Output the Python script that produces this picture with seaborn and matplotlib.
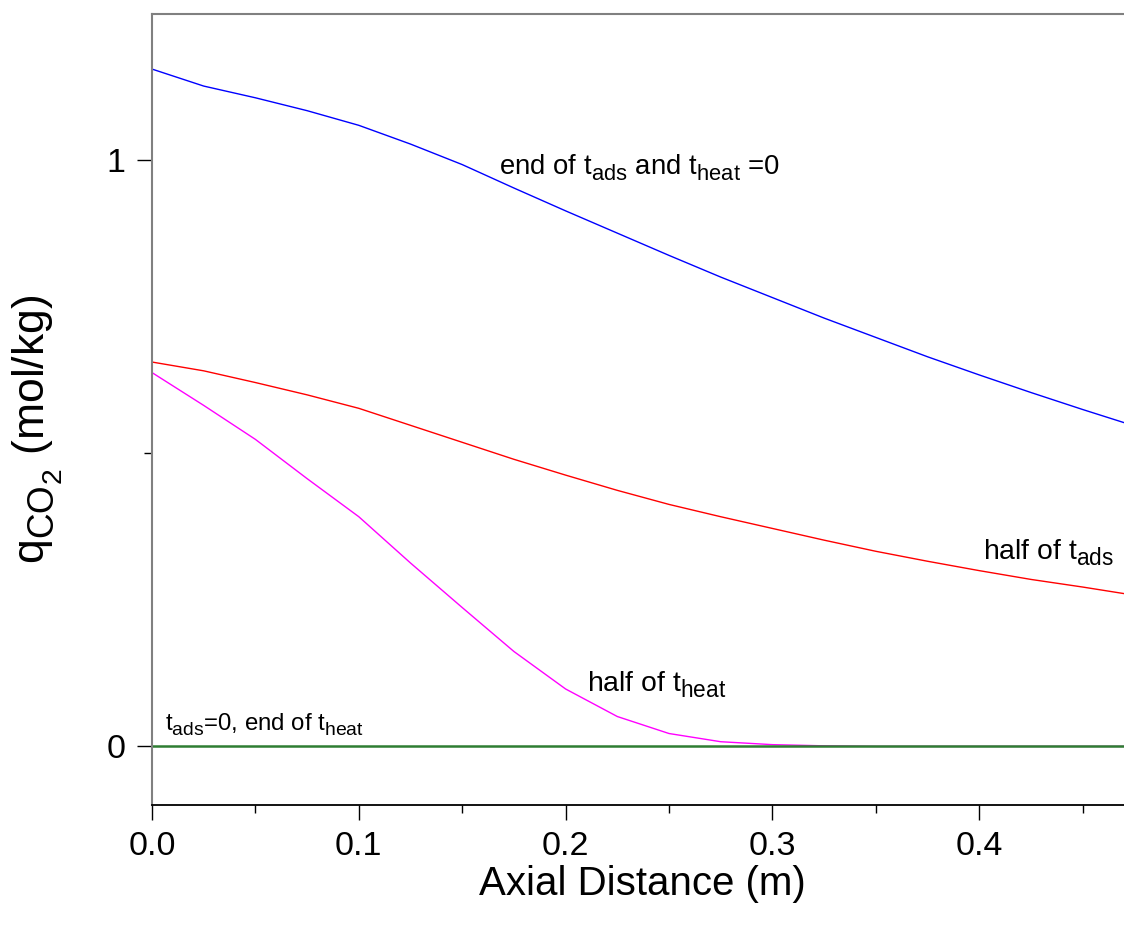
import matplotlib
matplotlib.use("Agg")
import matplotlib.pyplot as plt
import seaborn as sns
import numpy as np
import pandas as pd
from matplotlib.ticker import MultipleLocator, FixedLocator

# ---- data ----
x_end = [0.0, 0.025, 0.05, 0.075, 0.1, 0.125, 0.15, 0.175, 0.2, 0.225, 0.25, 0.275,
         0.3, 0.325, 0.35, 0.375, 0.4, 0.425, 0.45, 0.475]
q_end_ads = [1.156, 1.127, 1.107, 1.085, 1.060, 1.028, 0.993, 0.953, 0.914, 0.876, 0.838,
             0.801, 0.766, 0.731, 0.698, 0.665, 0.634, 0.604, 0.575, 0.547]
q_half_ads = [0.656, 0.641, 0.621, 0.600, 0.577, 0.548, 0.519, 0.490, 0.463, 0.437, 0.413,
              0.392, 0.372, 0.352, 0.333, 0.316, 0.300, 0.285, 0.272, 0.258]
q_half_heat = [0.638, 0.582, 0.524, 0.457, 0.392, 0.313, 0.237, 0.162, 0.098, 0.051, 0.022,
               0.008, 0.003, 0.001, 0.0, 0.0, 0.0, 0.0, 0.0, 0.0]
q_start = [0.0] * len(x_end)

x_ticks = [0.0, 0.1, 0.2, 0.3, 0.4]
x_tick_labels = ["0.0", "0.1", "0.2", "0.3", "0.4"]
y_ticks = [0, 1]
y_tick_labels = ["0", "1"]

sns.set_style("ticks")
plt.rcParams['font.family'] = ['Liberation Sans', 'DejaVu Sans']
plt.rcParams['mathtext.fontset'] = 'custom'
plt.rcParams['mathtext.rm'] = 'Liberation Sans'
plt.rcParams['mathtext.it'] = 'Liberation Sans'
plt.rcParams['mathtext.bf'] = 'Liberation Sans:bold'
for k in ['text.color', 'axes.labelcolor', 'xtick.color', 'ytick.color']:
    plt.rcParams[k] = 'black'

# larger and lower subscripts, as in the reference
try:
    import matplotlib._mathtext as _mt
    _mt.SHRINK_FACTOR = 0.8
    _mt.FontConstantsBase.sub1 = 0.42
    _mt.FontConstantsBase.sub2 = 0.6
except Exception:
    pass

fig = plt.figure(figsize=(11.24, 9.30), dpi=100)
ax = fig.add_axes([152 / 1124, 1 - 805 / 930, 1 - 152 / 1124, (805 - 14) / 930])

sns.lineplot(x=x_end, y=q_half_heat, ax=ax, color="#ff00ff", linewidth=1.0)
sns.lineplot(x=x_end, y=q_half_ads, ax=ax, color="#ff0000", linewidth=1.0)
sns.lineplot(x=x_end, y=q_end_ads, ax=ax, color="#0000ff", linewidth=1.0)
sns.lineplot(x=x_end, y=q_start, ax=ax, color="#2e7d32", linewidth=1.8)

ax.set_xlim(0.0, 0.47)
ax.set_ylim(-0.1, 1.25)

ax.xaxis.set_major_locator(FixedLocator(x_ticks))
ax.set_xticklabels(x_tick_labels)
ax.xaxis.set_minor_locator(MultipleLocator(0.05))
ax.yaxis.set_major_locator(FixedLocator(y_ticks))
ax.set_yticklabels(y_tick_labels)
ax.yaxis.set_minor_locator(FixedLocator([0.5]))

ax.tick_params(axis='both', which='major', direction='out', length=11, width=1.0,
               colors='black', labelsize=24.5, pad=8)
ax.tick_params(axis='both', which='minor', direction='out', length=5.5, width=1.0,
               colors='black')

for side in ['left', 'top']:
    ax.spines[side].set_color('#808080')
    ax.spines[side].set_linewidth(1.5)
ax.spines['bottom'].set_color('black')
ax.spines['bottom'].set_linewidth(1.3)
ax.spines['right'].set_visible(False)

ax.set_xlabel("Axial Distance (m)", fontsize=29)
ax.set_ylabel(r"q$_{\mathregular{CO_2}}$ (mol/kg)", fontsize=32)
ax.xaxis.set_label_coords(0.505, -0.076)
ax.yaxis.set_label_coords(-0.09, 0.475)

ax.text(0.168, 0.975, r"end of t$_{\mathregular{ads}}$ and t$_{\mathregular{heat}}$ =0",
        fontsize=19.8, va='baseline', ha='left')
ax.text(0.402, 0.318, r"half of t$_{\mathregular{ads}}$", fontsize=20.4, va='baseline', ha='left')
ax.text(0.2104, 0.093, r"half of t$_{\mathregular{heat}}$", fontsize=20.4, va='baseline', ha='left')
ax.text(0.0064, 0.027, r"t$_{\mathregular{ads}}$=0, end of t$_{\mathregular{heat}}$",
        fontsize=17.3, va='baseline', ha='left')

fig.savefig("out.png", dpi=100)
